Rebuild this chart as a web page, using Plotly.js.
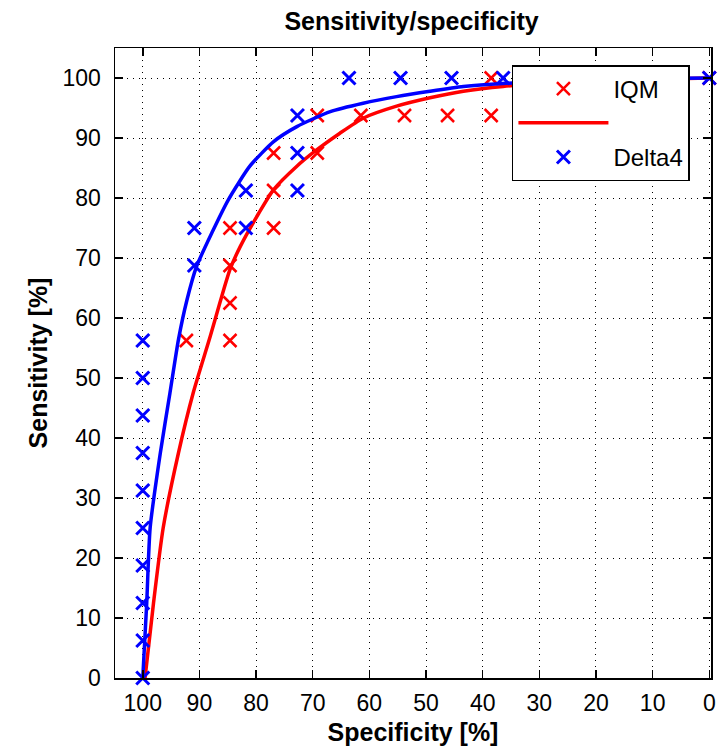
<!DOCTYPE html>
<html>
<head>
<meta charset="utf-8">
<script src="https://cdn.plot.ly/plotly-3.0.1.min.js"></script>
<style>html,body{margin:0;padding:0;background:#fff;}#chart{width:722px;height:749px;}</style>
</head>
<body>
<div id="chart"></div>
<script>
// IQM measured points (specificity %, sensitivity %)
const iqmSpec = [92.3, 84.6, 84.6, 84.6, 84.6, 76.9, 76.9, 76.9, 69.2, 69.2, 61.5, 53.8, 46.2, 38.5, 38.5, 0];
const iqmSens = [56.25, 56.25, 62.5, 68.75, 75, 75, 81.25, 87.5, 87.5, 93.75, 93.75, 93.75, 93.75, 93.75, 100, 100];
// IQM fitted curve
const iqmFitSpec = [99.6, 98.1, 96.4, 93.7, 91.1, 88.1, 86.4, 84.6, 82.8, 79.5, 76.9, 72.8, 69.6, 65.2, 61.1, 55.2, 49.3, 43.4, 36.4, 25, 10, 0];
const iqmFitSens = [0, 12.5, 25, 37.5, 47.5, 56.9, 62.5, 68.1, 71.9, 77.5, 81.4, 85.3, 87.8, 90.8, 93.3, 95.3, 96.7, 97.8, 98.6, 99.3, 99.8, 100];
// Delta4 measured points
const d4Spec = [100, 100, 100, 100, 100, 100, 100, 100, 100, 100, 90.9, 90.9, 81.8, 81.8, 72.7, 72.7, 72.7, 63.6, 54.5, 45.5, 36.4, 0];
const d4Sens = [0, 6.25, 12.5, 18.75, 25, 31.25, 37.5, 43.75, 50, 56.25, 68.75, 75, 75, 81.25, 81.25, 87.5, 93.75, 100, 100, 100, 100, 100];
// Delta4 fitted curve
const d4FitSpec = [100, 99.3, 98.7, 96.9, 95.2, 93.7, 92.2, 90.5, 87.8, 84.9, 81.1, 76.9, 72.8, 66.9, 61.1, 55.2, 49.3, 43.4, 36.4, 25, 10, 0];
const d4FitSens = [0, 12.5, 25, 37.5, 47.5, 56.4, 63.0, 68.6, 74.2, 79.7, 85.3, 89.4, 91.9, 94.4, 95.8, 96.9, 97.8, 98.6, 99.1, 99.5, 99.9, 100];

const xTicks = [100, 90, 80, 70, 60, 50, 40, 30, 20, 10, 0];
const yTicks = [0, 10, 20, 30, 40, 50, 60, 70, 80, 90, 100];

const RED = '#ff0000', BLUE = '#0000ff';
const FONT = 'Liberation Sans, Arial, sans-serif';

const traces = [
  {x: iqmSpec, y: iqmSens, type: 'scatter', mode: 'markers', name: 'IQM', cliponaxis: false,
   marker: {symbol: 'x-thin-open', size: 13, color: RED, line: {color: RED, width: 2.5}}},
  {x: iqmFitSpec, y: iqmFitSens, type: 'scatter', mode: 'lines', name: ' ', cliponaxis: false,
   line: {color: RED, width: 3.5, shape: 'spline', smoothing: 0.6}},
  {x: d4Spec, y: d4Sens, type: 'scatter', mode: 'markers', name: 'Delta4', cliponaxis: false,
   marker: {symbol: 'x-thin-open', size: 13, color: BLUE, line: {color: BLUE, width: 3}}},
  {x: d4FitSpec, y: d4FitSens, type: 'scatter', mode: 'lines', name: 'Delta4 fit', showlegend: false, cliponaxis: false,
   line: {color: BLUE, width: 3.5, shape: 'spline', smoothing: 0.6}}
];

const axisCommon = {
  showline: true, linecolor: '#000', linewidth: 1.5, mirror: 'ticks',
  ticks: 'inside', ticklen: 8, tickwidth: 1.5, tickcolor: '#000',
  showgrid: true, gridcolor: '#000', gridwidth: 1, griddash: '1px,5px',
  zeroline: false, tickfont: {family: FONT, size: 23, color: '#000'}
};

const layout = {
  width: 722, height: 749,
  paper_bgcolor: '#fff', plot_bgcolor: '#fff',
  margin: {l: 115, r: 11, t: 48, b: 71},
  showlegend: true,
  title: {text: '<b>Sensitivity/specificity</b>', x: 0.570, xanchor: 'center', y: 0.972, yanchor: 'middle',
          font: {family: FONT, size: 25, color: '#000'}},
  xaxis: Object.assign({}, axisCommon, {
    range: [104.9, -0.3], tickvals: xTicks, ticktext: xTicks.map(String),
    ticklabelstandoff: 4,
    title: {text: '<b>Specificity [%]</b>', standoff: 8, font: {family: FONT, size: 25, color: '#000'}}
  }),
  yaxis: Object.assign({}, axisCommon, {
    range: [0, 105], tickvals: yTicks, ticktext: yTicks.map(String),
    ticklabelstandoff: 8,
    title: {text: '<b>Sensitivity [%]</b>', standoff: 8, font: {family: FONT, size: 25, color: '#000'}}
  }),
  legend: {x: 0.666, y: 0.973, xanchor: 'left', yanchor: 'top',
           bgcolor: '#fff', bordercolor: '#000', borderwidth: 1.5,
           font: {family: FONT, size: 24, color: '#000'}, itemwidth: 90,
           entrywidth: 180, entrywidthmode: 'pixels',
           tracegroupgap: 0}
};

Plotly.newPlot('chart', traces, layout, {displayModeBar: false, staticPlot: true});
</script>
</body>
</html>
